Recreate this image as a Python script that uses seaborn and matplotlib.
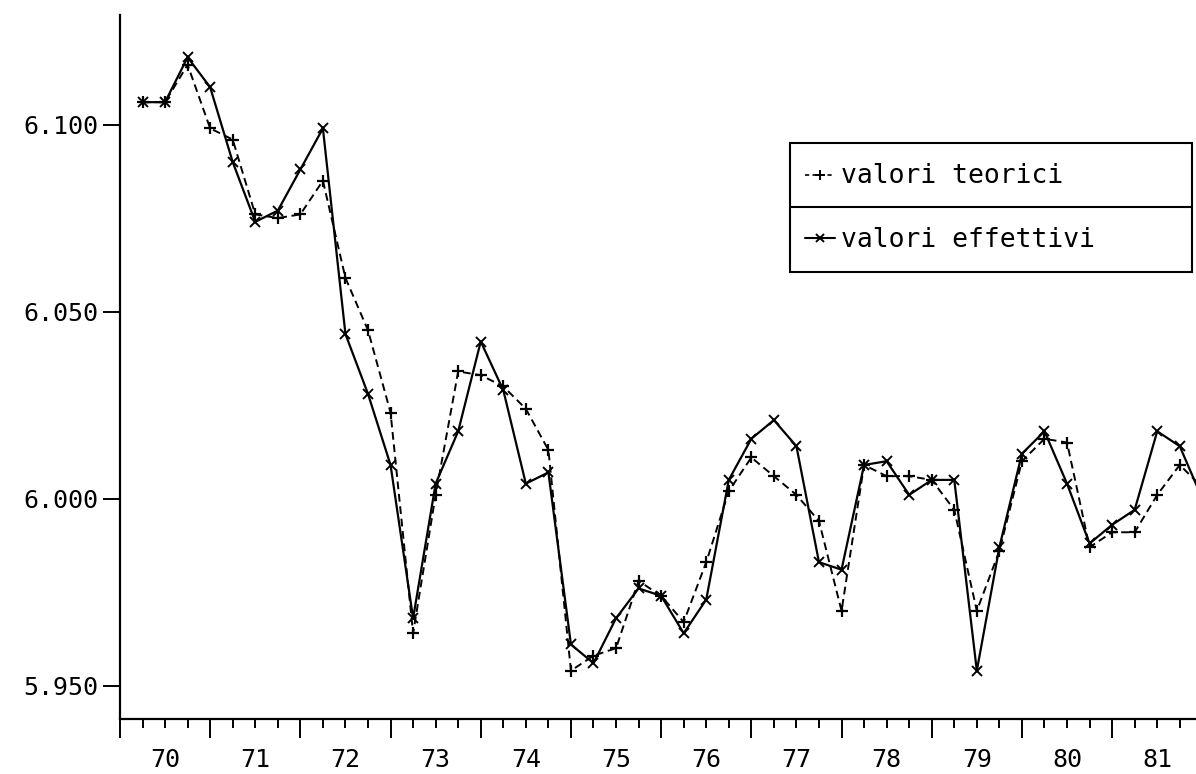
import numpy as np
import pandas as pd
import matplotlib
matplotlib.use("Agg")
import matplotlib.pyplot as plt
import seaborn as sns
from matplotlib.lines import Line2D
from matplotlib.patches import Rectangle
from matplotlib.ticker import FixedLocator, FuncFormatter, NullFormatter

# Quarterly series, 1970 Q1 onward
anni = ["70", "71", "72", "73", "74", "75", "76", "77", "78", "79", "80", "81"]

valori_teorici = [
    6.106, 6.106, 6.116, 6.099, 6.096, 6.076, 6.075, 6.076,
    6.085, 6.059, 6.045, 6.023, 5.964, 6.001, 6.034, 6.033,
    6.030, 6.024, 6.013, 5.954, 5.958, 5.960, 5.978, 5.974,
    5.967, 5.983, 6.002, 6.011, 6.006, 6.001, 5.994, 5.970,
    6.009, 6.006, 6.006, 6.005, 5.997, 5.970, 5.986, 6.010,
    6.016, 6.015, 5.987, 5.991, 5.991, 6.001, 6.009, 6.003,
]

valori_effettivi = [
    6.106, 6.106, 6.118, 6.110, 6.090, 6.074, 6.077, 6.088,
    6.099, 6.044, 6.028, 6.009, 5.968, 6.004, 6.018, 6.042,
    6.029, 6.004, 6.007, 5.961, 5.956, 5.968, 5.976, 5.974,
    5.964, 5.973, 6.005, 6.016, 6.021, 6.014, 5.983, 5.981,
    6.009, 6.010, 6.001, 6.005, 6.005, 5.954, 5.987, 6.012,
    6.018, 6.004, 5.988, 5.993, 5.997, 6.018, 6.014, 6.000,
]

etichette_y = [5.950, 6.000, 6.050, 6.100]

sns.set_style("ticks")
plt.rcParams["font.family"] = ["DejaVu Sans Mono", "DejaVu Sans"]

fig = plt.figure(figsize=(11.96, 7.74), dpi=100)
ax = fig.add_axes([0.1003, 0.0707, 0.8997, 0.9099])

trimestri = np.arange(1, len(valori_effettivi) + 1)
df = pd.DataFrame({
    "trimestre": trimestri,
    "teorici": valori_teorici,
    "effettivi": valori_effettivi,
})

sns.lineplot(data=df, x="trimestre", y="teorici", ax=ax, color="black",
             lw=1.4, linestyle=(0, (4.0, 2.4)), marker="+", markersize=8,
             markeredgewidth=1.6, markeredgecolor="black")
sns.lineplot(data=df, x="trimestre", y="effettivi", ax=ax, color="black",
             lw=1.6, linestyle="-", marker="x", markersize=6.5,
             markeredgewidth=1.4, markeredgecolor="black")

ax.set_xlim(0, 47.72)
ax.set_ylim(5.941, 6.1293)
ax.set_xlabel("")
ax.set_ylabel("")

for side in ("top", "right"):
    ax.spines[side].set_visible(False)
for side in ("left", "bottom"):
    ax.spines[side].set_linewidth(1.6)
    ax.spines[side].set_color("black")

# x axis: long ticks at year boundaries, short ticks per quarter,
# year labels centred within each year
ax.xaxis.set_major_locator(FixedLocator(list(range(0, 48, 4))))
ax.xaxis.set_major_formatter(NullFormatter())
minori = [k for k in range(1, 48) if k % 4 != 0]
ax.xaxis.set_minor_locator(FixedLocator(minori))


def etichetta_anno(v, pos):
    k = int(round(v))
    if k % 4 == 2 and k // 4 < len(anni):
        return anni[k // 4]
    return ""


ax.xaxis.set_minor_formatter(FuncFormatter(etichetta_anno))
ax.tick_params(axis="x", which="major", length=13.7, width=1.4,
               direction="out", colors="black")
ax.tick_params(axis="x", which="minor", length=6.5, width=1.4,
               direction="out", pad=14, labelsize=18, colors="black")

ax.set_yticks(etichette_y)
ax.set_yticklabels([f"{v:.3f}" for v in etichette_y])
ax.tick_params(axis="y", which="major", length=12, width=1.4,
               direction="out", pad=3.6, labelsize=18, colors="black")
ax.yaxis.set_minor_locator(FixedLocator([]))

# Boxed legend with a divider between the two entries
tf = fig.transFigure
fig.add_artist(Rectangle((0.6605, 0.6486), 0.3362, 0.1666, transform=tf,
                         fill=False, edgecolor="black", lw=1.5))
fig.add_artist(Line2D([0.6605, 0.9967], [0.7326, 0.7326], transform=tf,
                      color="black", lw=1.5))

fig.add_artist(Line2D([0.6731, 0.6982], [0.7739, 0.7739], transform=tf,
                      color="black", lw=1.2, linestyle=(0, (2.5, 2.0))))
fig.add_artist(Line2D([0.6856], [0.7739], transform=tf, color="black",
                      marker="+", markersize=7, markeredgewidth=1.4))
fig.text(0.7032, 0.7636, "valori teorici", fontsize=19, va="baseline",
         ha="left", color="black")

fig.add_artist(Line2D([0.6731, 0.6982], [0.6925, 0.6925], transform=tf,
                      color="black", lw=1.5))
fig.add_artist(Line2D([0.6856], [0.6925], transform=tf, color="black",
                      marker="x", markersize=6, markeredgewidth=1.4))
fig.text(0.7032, 0.6809, "valori effettivi", fontsize=19, va="baseline",
         ha="left", color="black")

fig.savefig("out.png", dpi=100, facecolor="white")
